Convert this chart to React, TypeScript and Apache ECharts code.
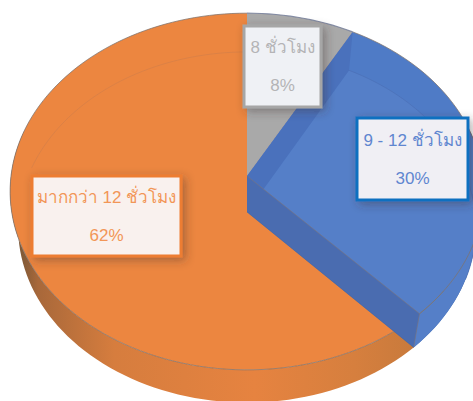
import React, { useEffect, useRef } from "react";
import * as echarts from "echarts";

// Data
const categories = ["8 ชั่วโมง", "9 - 12 ชั่วโมง", "มากกว่า 12 ชั่วโมง"];
const shares = [8, 30, 62];

// Styles and layout
const drawOrder = [0, 2, 1];
const topFill = ["#a9a9a9", "#557fc8", "#ec8640"];
const rimFill = ["#a9a9a9", "#4f7bc6", "#ec8640"];
const labelText = ["#b4b4b6", "#5f86d0", "#f29657"];
const labelBorder = ["#a6a6a6", "#0f70c0", "#ed7d31"];
const labelFill = ["#eff1f5", "#f0eff4", "#f9f1ee"];
const labelBox = [
  [244, 26, 77, 81],
  [357, 118, 111, 82],
  [32, 176, 149, 80],
];

const K = 0.087;
const TOP = { cx: 247, cy: 176, a: 236, b: 177 };
const BASE = { cx: 247, cy: 212, a: 228, b: 174 };
const project = (e: typeof TOP, deg: number): number[] => {
  const t = (deg * Math.PI) / 180;
  const u = Math.sin(t);
  const v = -Math.cos(t);
  const w = 1 - K * v;
  return [e.cx + (e.a * u) / w, e.cy + (e.b * v) / w];
};
const arc = (e: typeof TOP, from: number, to: number): number[][] => {
  const n = Math.max(2, Math.ceil(Math.abs(to - from) / 2));
  const pts: number[][] = [];
  for (let i = 0; i <= n; i++) pts.push(project(e, from + ((to - from) * i) / n));
  return pts;
};
const total = shares.reduce((s, v) => s + v, 0);
const startOf = (i: number) => (shares.slice(0, i).reduce((s, v) => s + v, 0) / total) * 360;

const G = echarts.graphic;
const orangeWall = new G.LinearGradient(14, 0, 415, 0, [
  { offset: 0, color: "#6f5336" },
  { offset: 0.06, color: "#a8683a" },
  { offset: 0.25, color: "#d67d3e" },
  { offset: 0.6, color: "#e68340" },
  { offset: 0.85, color: "#d67f3e" },
  { offset: 1, color: "#c87a3c" },
], true);
const blueWall = new G.LinearGradient(415, 0, 478, 0, [
  { offset: 0, color: "#4a72b8" },
  { offset: 0.6, color: "#3f67a8" },
  { offset: 1, color: "#2c4a78" },
], true);
const edge = "rgba(125,115,110,0.75)";
const faint = "rgba(190,120,80,0.35)";

const renderSlice = (_: any, api: any) => {
  const i = api.value(0) as number;
  const from = startOf(i);
  const to = from + (shares[i] / total) * 360;
  const children: any[] = [];
  const poly = (points: number[][], style: any) => children.push({ type: "polygon", shape: { points }, style });
  const line = (points: number[][], stroke: string, lineWidth = 1) =>
    children.push({ type: "polyline", shape: { points }, style: { stroke, lineWidth, fill: "none" } });

  const apex = [TOP.cx, TOP.cy];
  const low = [BASE.cx, BASE.cy];
  if (i !== 0) {
    // outer wall, visible on the front of the pie
    const a0 = Math.max(from, 90 - 20);
    const a1 = Math.min(to, 285);
    poly([...arc(TOP, a0, a1), ...arc(BASE, a1, a0)], { fill: i === 1 ? blueWall : orangeWall });
  }
  poly([apex, ...arc(TOP, from, to)], { fill: rimFill[i] });
  if (i === 1) {
    poly([low, ...arc(BASE, from, to)], { fill: topFill[i] });
    // walls of the wedge, seen through its top
    poly([apex, project(TOP, from), project(BASE, from), low], { fill: "#4a71bc" });
    poly([apex, project(TOP, to), project(BASE, to), low], { fill: "#4a6cb0" });
    line(arc(BASE, from, 112), "rgba(75,110,180,0.6)");
    line([apex, project(TOP, to), project(BASE, to)], "rgba(125,115,120,0.6)");
    line(arc(TOP, from, to), edge);
    line([low, project(BASE, to)], "rgba(70,90,130,0.3)");
    // the front rim of the orange wedge runs on across this wall
    line(arc(TOP, 128, to), "rgba(130,120,110,0.5)");
  }
  if (i === 2) {
    line(arc(TOP, from, to), edge);
    line(arc(BASE, 285, 360), faint);
  }
  if (i === 0) {
    line(arc(TOP, from, to), "rgba(110,120,150,0.8)", 1.2);
    line([apex, project(TOP, to)], "rgba(190,160,130,0.7)");
  }
  return { type: "group", children };
};

export default function App() {
  const ref = useRef<HTMLDivElement>(null);
  useEffect(() => {
    document.body.style.margin = "0";
    const chart = echarts.init(ref.current!, undefined, { renderer: "svg" });
    const graphics: any[] = [];
    categories.forEach((name, i) => {
      const [x, y, width, height] = labelBox[i];
      graphics.push({
        type: "rect",
        z: 10,
        shape: { x, y, width, height },
        style: {
          fill: labelFill[i],
          stroke: labelBorder[i],
          lineWidth: 3,
          shadowColor: "rgba(60,50,45,0.4)",
          shadowBlur: 10,
          shadowOffsetX: 3,
          shadowOffsetY: 3,
        },
      });
      graphics.push({
        type: "text",
        z: 11,
        x: x + width / 2,
        y: y + height / 2,
        style: {
          text: `${name}\n${shares[i]}%`,
          fill: labelText[i],
          font: '17px "Liberation Sans", Arial, "Noto Sans", sans-serif',
          lineHeight: 38,
          align: "center",
          verticalAlign: "middle",
        },
      });
    });
    chart.setOption({
      animation: false,
      backgroundColor: "#ffffff",
      series: [
        {
          type: "custom",
          coordinateSystem: "none",
          silent: true,
          renderItem: renderSlice,
          data: drawOrder.map((i) => [i, shares[i]]),
        },
      ],
      graphic: graphics,
    });
    return () => chart.dispose();
  }, []);
  return <div ref={ref} style={{ width: 473, height: 401, overflow: "hidden" }} />;
}
